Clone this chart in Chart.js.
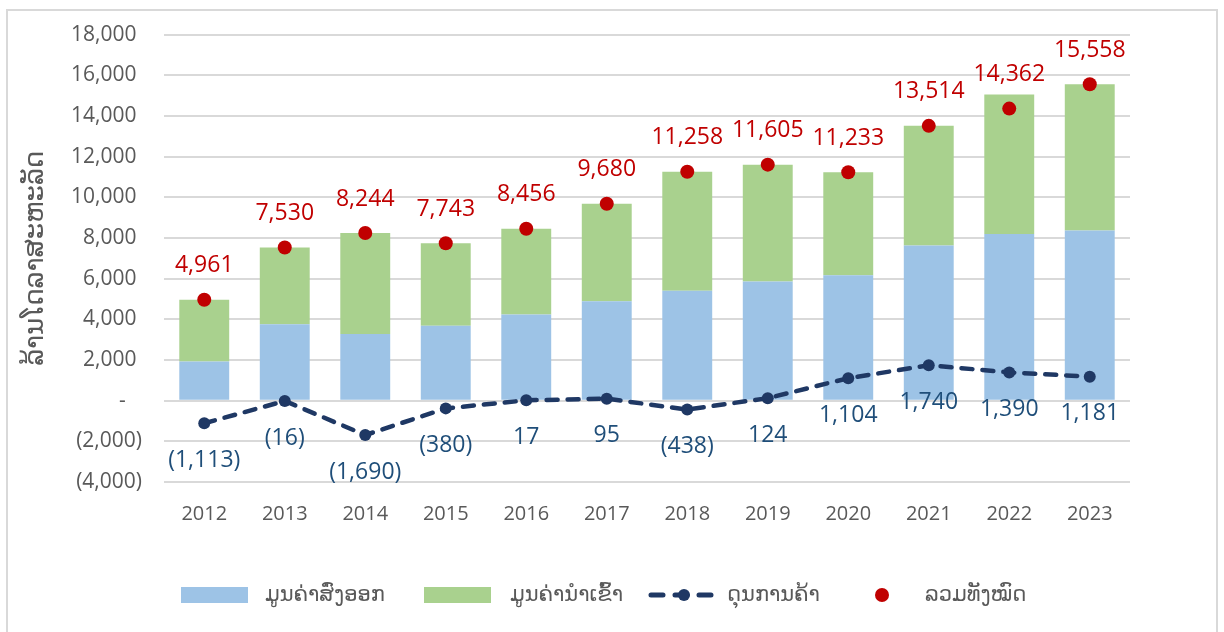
<!DOCTYPE html>
<html>
<head>
<meta charset="utf-8">
<script src="https://cdn.jsdelivr.net/npm/chart.js@4/dist/chart.umd.min.js"></script>
<style>
  html, body { margin: 0; padding: 0; background: #fff; overflow: hidden; }
  #wrap { position: relative; width: 1224px; height: 632px; }
  #frame { position: absolute; left: 6px; top: 9px; width: 1212px; height: 700px; border: 2px solid #D9D9D9; box-sizing: border-box; }
  canvas { position: absolute; left: 0; top: 0; }
  .lg { position: absolute; font-family: 'DejaVu Sans', 'Noto Sans', sans-serif; font-size: 21px; color: #595959; line-height: 24px; top: 582px; white-space: nowrap; }
  .box { position: absolute; top: 587px; width: 67px; height: 16px; }
</style>
</head>
<body>
<div id="wrap">
  <div id="frame"></div>
  <canvas id="c" width="1224" height="632"></canvas>
  <div class="box" style="left:181px;background:#9DC3E6"></div>
  <div class="lg" style="left:265px">ມູນຄ່າສົ່ງອອກ</div>
  <div class="box" style="left:424px;background:#A9D18E"></div>
  <div class="lg" style="left:510px">ມູນຄ່ານຳເຂົ້າ</div>
  <svg style="position:absolute;left:645px;top:585px" width="76" height="20">
    <line x1="6" y1="10" x2="70" y2="10" stroke="#1F3864" stroke-width="5" stroke-linecap="round" stroke-dasharray="12 12"/>
    <circle cx="39" cy="10" r="6" fill="#1F3864"/>
  </svg>
  <div class="lg" style="left:727px">ດຸນການຄ້າ</div>
  <svg style="position:absolute;left:872px;top:585px" width="20" height="20">
    <circle cx="10" cy="10" r="7" fill="#C00000"/>
  </svg>
  <div class="lg" style="left:925px">ລວມທັງໝົດ</div>
</div>
<script>
const years = ['2012','2013','2014','2015','2016','2017','2018','2019','2020','2021','2022','2023'];
const exportsVal = [1924, 3757, 3277, 3682, 4237, 4888, 5410, 5865, 6169, 7627, 8190, 8370];
const importsVal = [3037, 3773, 4967, 4062, 4220, 4793, 5848, 5741, 5065, 5887, 6870, 7189];
const balanceVal = [-1113, -16, -1690, -380, 17, 95, -438, 124, 1104, 1740, 1390, 1181];
const totalVal = [4961, 7530, 8244, 7743, 8456, 9680, 11258, 11605, 11233, 13514, 14362, 15558];
const seriesNames = ['ມູນຄ່າສົ່ງອອກ', 'ມູນຄ່ານຳເຂົ້າ', 'ດຸນການຄ້າ', 'ລວມທັງໝົດ'];
const yTitle = 'ລ້ານໂດລາສະຫະລັດ';
const yMin = -4000, yMax = 18000, yStep = 2000;

const fmt = v => {
  const s = Math.abs(v).toLocaleString('en-US');
  return v < 0 ? '(' + s + ')' : s;
};

const labelPlugin = {
  id: 'labels',
  afterDatasetsDraw(chart) {
    const ctx = chart.ctx;
    ctx.save();
    ctx.font = '23px "Open Sans"';
    ctx.textAlign = 'center';
    ctx.textBaseline = 'middle';
    const mt = chart.getDatasetMeta(3);
    ctx.fillStyle = '#C00000';
    mt.data.forEach((p, i) => ctx.fillText(fmt(totalVal[i]), p.x, p.y - 34));
    const mb = chart.getDatasetMeta(2);
    ctx.fillStyle = '#1F4E79';
    mb.data.forEach((p, i) => ctx.fillText(fmt(balanceVal[i]), p.x, p.y + 37));
    const ca = chart.chartArea;
    ctx.translate(36, (ca.top + ca.bottom) / 2);
    ctx.rotate(-Math.PI / 2);
    ctx.font = '26px "DejaVu Sans"';
    ctx.fillStyle = '#595959';
    ctx.fillText(yTitle, 0, 0);
    ctx.restore();
  }
};

new Chart(document.getElementById('c'), {
  data: {
    labels: years,
    datasets: [
      { type: 'bar', label: seriesNames[0], data: exportsVal, backgroundColor: '#9DC3E6', stack: 'bars', order: 2, barPercentage: 0.62, categoryPercentage: 1 },
      { type: 'bar', label: seriesNames[1], data: importsVal, backgroundColor: '#A9D18E', stack: 'bars', order: 3, barPercentage: 0.62, categoryPercentage: 1 },
      { type: 'line', label: seriesNames[2], data: balanceVal, stack: 'bal', order: 1, borderColor: '#1F3864', borderWidth: 4.5, borderDash: [11, 10], borderCapStyle: 'round', tension: 0, pointRadius: 6, pointBackgroundColor: '#1F3864', pointBorderWidth: 0, fill: false },
      { type: 'line', label: seriesNames[3], data: totalVal, stack: 'tot', order: 0, showLine: false, pointRadius: 7, pointBackgroundColor: '#C00000', pointBorderWidth: 0 }
    ]
  },
  options: {
    responsive: false,
    animation: false,
    layout: { padding: { left: 0, top: 33, right: 94, bottom: 0 } },
    plugins: { legend: { display: false }, tooltip: { enabled: false } },
    scales: {
      x: {
        stacked: true,
        grid: { display: false },
        border: { display: false },
        ticks: { color: '#595959', font: { family: 'Open Sans', size: 20 }, padding: 12, maxRotation: 0 },
        afterFit(s) { s.height = 150; }
      },
      y: {
        stacked: true,
        min: yMin, max: yMax,
        grid: { color: '#D9D9D9', lineWidth: 2, drawTicks: false },
        border: { display: false },
        ticks: {
          stepSize: yStep,
          color: '#595959',
          font: { family: 'Open Sans', size: 21 },
          padding: 22,
          callback: v => v === 0 ? '-   ' : (v < 0 ? fmt(v) : fmt(v) + ' ')
        },
        afterFit(s) { s.width = 164; }
      }
    }
  },
  plugins: [labelPlugin]
});
</script>
</body>
</html>
